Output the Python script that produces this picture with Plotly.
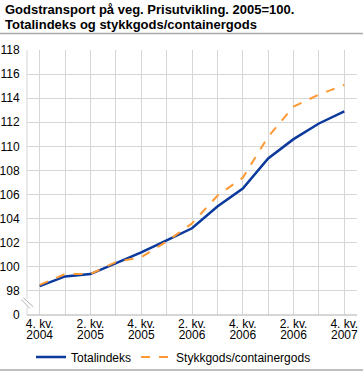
import plotly.graph_objects as go

quarters = ["4. kv. 2004", "1. kv. 2005", "2. kv. 2005", "3. kv. 2005", "4. kv. 2005",
            "1. kv. 2006", "2. kv. 2006", "3. kv. 2006", "4. kv. 2006",
            "1. kv. 2007", "2. kv. 2007", "3. kv. 2007", "4. kv. 2007"]
totalindeks = [98.4, 99.2, 99.4, 100.3, 101.2, 102.2, 103.2, 105.0, 106.5, 109.0, 110.6, 111.9, 112.9]
stykkgods = [98.5, 99.4, 99.4, 100.4, 100.8, 102.1, 103.6, 105.9, 107.4, 110.8, 113.3, 114.3, 115.1]

tick_line1 = ["4. kv.", "", "2. kv.", "", "4. kv.", "", "2. kv.", "", "4. kv.", "", "2. kv.", "", "4. kv."]
tick_line2 = ["2004", "", "2005", "", "2005", "", "2006", "", "2006", "", "2006", "", "2007"]
y_ticks = [96, 98, 100, 102, 104, 106, 108, 110, 112, 114, 116, 118]
y_ticktext = ["0", "98", "100", "102", "104", "106", "108", "110", "112", "114", "116", "118"]
title_lines = ["Godstransport på veg. Prisutvikling. 2005=100.",
               "Totalindeks og stykkgods/containergods"]

xpos = list(range(len(quarters)))

fig = go.Figure()
fig.add_trace(go.Scatter(x=xpos, y=totalindeks, name="Totalindeks", mode="lines",
                         line=dict(color="#0b3a9c", width=2.5), text=quarters))
fig.add_trace(go.Scatter(x=xpos, y=stykkgods, name="Stykkgods/containergods", mode="lines",
                         line=dict(color="#ff9933", width=2, dash="dash"), text=quarters))
# invisible trace to activate xaxis2 (second line of the x tick labels)
fig.add_trace(go.Scatter(x=[xpos[0]], y=[None], xaxis="x2", showlegend=False, hoverinfo="skip"))

font = "Liberation Sans, Arial, sans-serif"
grid = "#d6d6d6"
PW, PH = 330, 265  # plot area size in px

fig.update_layout(
    width=363, height=372,
    margin=dict(l=27, r=6, t=50, b=57, autoexpand=False),
    paper_bgcolor="white", plot_bgcolor="white",
    font=dict(family=font, size=12, color="#000"),
    xaxis=dict(range=[-0.5, len(quarters)-0.5], tickvals=xpos, ticktext=tick_line1,
               showgrid=True, gridcolor=grid, gridwidth=1, zeroline=False, automargin=False,
               showline=False, ticks="", tickfont=dict(size=12)),
    xaxis2=dict(range=[-0.5, len(quarters)-0.5], tickvals=xpos, ticktext=tick_line2,
                overlaying="x", anchor="y", side="bottom", showgrid=False, zeroline=False,
                automargin=False,
                showline=False, ticks="", ticklabelstandoff=11, tickfont=dict(size=12)),
    yaxis=dict(range=[96, 118], tickvals=y_ticks, ticktext=y_ticktext, automargin=False,
               showgrid=True, gridcolor=grid, gridwidth=1, zeroline=False,
               showline=False, ticks="outside", ticklen=4, tickcolor="rgba(0,0,0,0)",
               tickfont=dict(size=12)),
    showlegend=True,
    legend=dict(orientation="h", xref="container", x=31/363, xanchor="left",
                yref="container", y=15/372, yanchor="middle", bgcolor="rgba(0,0,0,0)",
                font=dict(size=12), itemwidth=30, tracegroupgap=0),
)

for i, line in enumerate(title_lines):
    fig.add_annotation(text="<b>" + line + "</b>", xref="paper", yref="paper",
                       x=-24/PW, y=1 + (50 - 0 - 15.5 * i)/PH, xanchor="left", yanchor="top",
                       align="left", showarrow=False,
                       font=dict(size=13, family=font, color="#000"))

shapes = []
shapes.append(dict(type="line", xref="paper", yref="paper", x0=0, x1=1, y0=0, y1=0,
                   line=dict(color="#c8c8c8", width=1.5)))
shapes.append(dict(type="line", xref="paper", yref="paper", x0=0, x1=0, y0=0, y1=1,
                   line=dict(color=grid, width=1)))
# axis break marks
shapes.append(dict(type="line", xref="paper", yref="paper", x0=0, x1=0, y0=0.03, y1=0.062,
                   line=dict(color="white", width=3)))
shapes.append(dict(type="line", xref="paper", yref="paper", x0=-0.018, y0=0.059, x1=0.009, y1=0.025,
                   line=dict(color="#b0b0b0", width=1)))
shapes.append(dict(type="line", xref="paper", yref="paper", x0=-0.011, y0=0.065, x1=0.019, y1=0.031,
                   line=dict(color="#b0b0b0", width=1)))
# separator lines (under title and at bottom)
for py in (33.5, 370.0):
    yy = (315 - py) / PH
    shapes.append(dict(type="line", xref="paper", yref="paper", layer="above",
                       x0=-27/PW, x1=336/PW, y0=yy, y1=yy,
                       line=dict(color="#a8a8a8", width=1.5)))
fig.update_layout(shapes=shapes)

fig.write_html("out.html", config={"displayModeBar": False},
               post_script="document.body.style.margin='0';document.body.style.overflow='hidden';")
